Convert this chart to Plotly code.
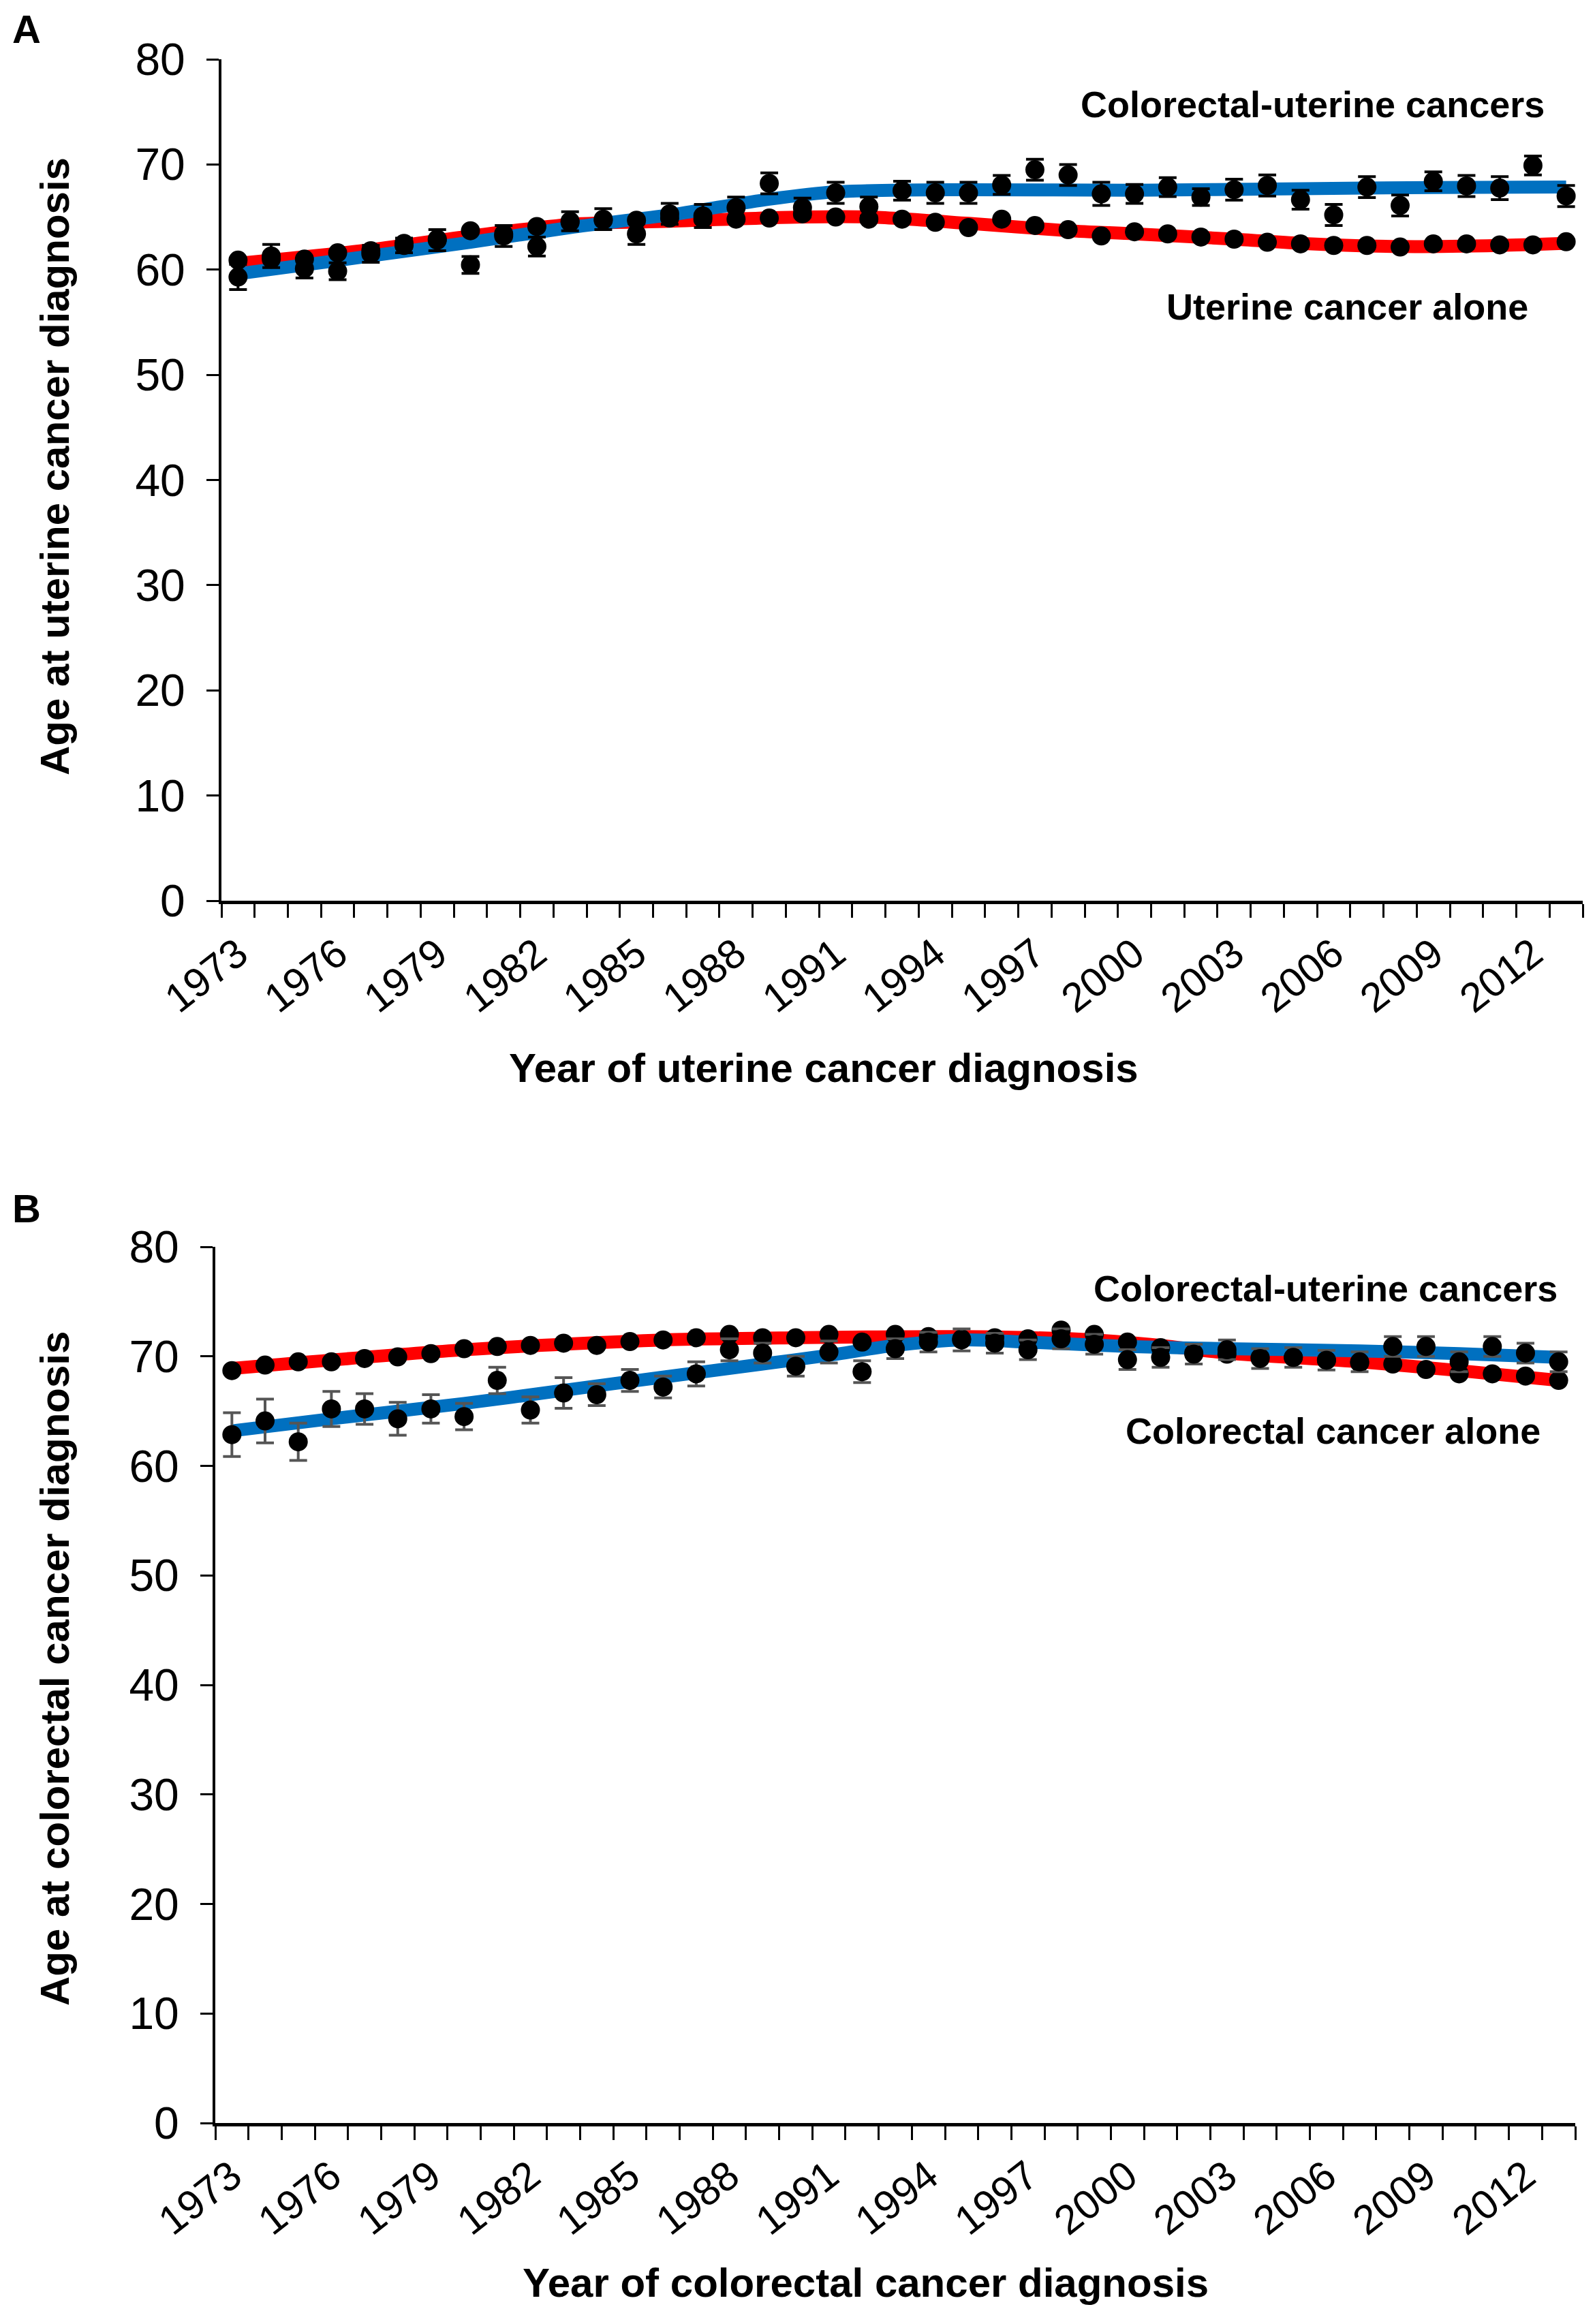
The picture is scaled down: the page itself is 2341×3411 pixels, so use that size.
import plotly.graph_objects as go

W, H = 2341, 3411
OFF = 8  # page body margin compensation (px)
years = list(range(1973, 2014))
tick_years = list(range(1973, 2013, 3))

# Panel A: age at uterine cancer diagnosis
a_cu = [59.3, 61.3, 60.1, 59.85, 61.5, 62.3, 62.8, 60.45, 63.2, 62.2, 64.6, 64.8, 63.4, 65.3,
        65.1, 65.9, 68.2, 65.9, 67.3, 66.0, 67.5, 67.3, 67.3, 68.05, 69.5, 69.0, 67.2, 67.2,
        67.85, 66.9, 67.6, 68.0, 66.65, 65.2, 67.85, 66.1, 68.4, 67.95, 67.75, 69.9, 67.0]
a_cu_err = [1.2, 1.1, 0.9, 0.8, 0.8, 0.7, 1.0, 0.8, 1.0, 0.9, 0.9, 1.0, 1.0, 1.0, 1.1, 1.0,
            1.0, 0.9, 1.0, 0.9, 0.9, 1.0, 1.0, 0.9, 1.0, 1.0, 1.1, 0.9, 0.9, 0.8, 1.0, 1.0,
            0.9, 1.0, 1.0, 1.0, 0.9, 1.0, 1.1, 0.9, 1.0]
a_ua = [60.9, 61.0, 61.0, 61.6, 61.8, 62.5, 62.9, 63.7, 63.4, 64.1, 64.5, 64.7, 64.7, 64.9,
        64.8, 64.8, 64.9, 65.3, 65.0, 64.8, 64.8, 64.5, 64.0, 64.8, 64.2, 63.8, 63.2, 63.6,
        63.4, 63.1, 62.9, 62.6, 62.45, 62.3, 62.3, 62.15, 62.45, 62.45, 62.35, 62.35, 62.65]
a_ua_err = [0.2] * 41
# Trend curves (read at knot years)
a_cu_trend_x = [1973, 1977, 1980, 1983, 1986, 1989, 1991, 1995, 2000, 2005, 2009, 2013]
a_cu_trend_y = [59.6, 61.3, 62.6, 64.0, 65.2, 66.7, 67.4, 67.6, 67.55, 67.7, 67.8, 67.85]
a_ua_trend_x = [1973, 1977, 1980, 1983, 1986, 1990, 1992, 1995, 1998, 2000, 2003, 2005, 2008, 2011, 2013]
a_ua_trend_y = [60.6, 61.9, 63.2, 64.3, 64.6, 65.0, 65.0, 64.4, 63.7, 63.4, 62.9, 62.5, 62.2, 62.3, 62.5]

# Panel B: age at colorectal cancer diagnosis
b_cu = [62.85, 64.1, 62.2, 65.2, 65.2, 64.3, 65.2, 64.5, 67.8, 65.1, 66.65, 66.5, 67.8, 67.2,
        68.4, 70.6, 70.3, 69.1, 70.4, 68.6, 70.7, 71.3, 71.5, 71.2, 70.6, 71.6, 71.1, 69.7,
        69.9, 70.2, 70.6, 69.8, 69.9, 69.65, 69.5, 70.9, 70.9, 69.5, 70.9, 70.3, 69.5]
b_cu_err = [2.0, 2.0, 1.7, 1.6, 1.4, 1.5, 1.3, 1.2, 1.2, 1.2, 1.4, 1.0, 1.0, 1.0, 1.1, 1.0,
            0.9, 0.9, 1.0, 1.0, 0.9, 0.9, 1.0, 0.9, 0.9, 0.9, 0.9, 0.9, 0.9, 0.9, 0.9, 0.9,
            0.9, 0.9, 0.9, 0.9, 0.9, 0.9, 0.9, 0.9, 0.9]
b_ca = [68.7, 69.2, 69.5, 69.5, 69.8, 69.95, 70.25, 70.7, 70.9, 71.0, 71.2, 71.0, 71.35, 71.5,
        71.7, 72.0, 71.7, 71.7, 72.0, 71.3, 72.0, 71.8, 71.6, 71.7, 71.6, 72.4, 72.0, 71.3,
        70.8, 70.3, 70.2, 69.9, 69.9, 69.65, 69.4, 69.3, 68.8, 68.4, 68.4, 68.2, 67.8]
b_ca_err = [0.2] * 41
b_cu_trend_x = [1973, 1976, 1980, 1983, 1986, 1989, 1991, 1993, 1995, 1997, 2000, 2003, 2007, 2010, 2013]
b_cu_trend_y = [63.2, 64.3, 65.7, 66.9, 68.1, 69.3, 70.1, 71.0, 71.5, 71.3, 70.9, 70.7, 70.5, 70.25, 69.9]
b_ca_trend_x = [1973, 1980, 1986, 1990, 1995, 1999, 2001, 2003, 2007, 2010, 2013]
b_ca_trend_y = [68.9, 70.6, 71.5, 71.7, 71.8, 71.5, 71.0, 70.3, 69.5, 68.7, 67.8]

RED = "#FF0000"
BLUE = "#0070C0"
FONT = "Liberation Sans, Arial, sans-serif"

fig = go.Figure()

def add_panel(xa, ya, cu, cu_err, other, other_err, cu_tx, cu_ty, ot_tx, ot_ty, cu_err_color):
    fig.add_trace(go.Scatter(x=ot_tx, y=ot_ty, mode="lines", line=dict(color=RED, width=19, shape="spline", smoothing=0.8),
                             xaxis=xa, yaxis=ya, showlegend=False, hoverinfo="skip"))
    fig.add_trace(go.Scatter(x=cu_tx, y=cu_ty, mode="lines", line=dict(color=BLUE, width=19, shape="spline", smoothing=0.8),
                             xaxis=xa, yaxis=ya, showlegend=False, hoverinfo="skip"))
    fig.add_trace(go.Scatter(x=years, y=other, mode="markers",
                             marker=dict(color="black", size=28),
                             error_y=dict(type="data", array=other_err, color="black", thickness=4, width=12),
                             xaxis=xa, yaxis=ya, showlegend=False))
    fig.add_trace(go.Scatter(x=years, y=cu, mode="markers",
                             marker=dict(color="black", size=28),
                             error_y=dict(type="data", array=cu_err, color=cu_err_color, thickness=4, width=13),
                             xaxis=xa, yaxis=ya, showlegend=False))

add_panel("x", "y", a_cu, a_cu_err, a_ua, a_ua_err, a_cu_trend_x, a_cu_trend_y, a_ua_trend_x, a_ua_trend_y, "black")
add_panel("x2", "y2", b_cu, b_cu_err, b_ca, b_ca_err, b_cu_trend_x, b_cu_trend_y, b_ca_trend_x, b_ca_trend_y, "#555555")

def xaxis_def(domain, anchor):
    return dict(domain=domain, anchor=anchor, range=[1972.5, 2013.5], automargin=False,
                tickmode="array", tickvals=tick_years, ticktext=[str(y) for y in tick_years],
                ticks="", tickangle=-38, tickfont=dict(family=FONT, size=60, color="black"),
                ticklabelstandoff=14,
                showline=True, linecolor="black", linewidth=5, showgrid=False, zeroline=False,
                minor=dict(tickmode="array", tickvals=[1972.5 + i for i in range(42)], ticks="outside",
                           ticklen=20, tickwidth=3, tickcolor="black", showgrid=False))

def yaxis_def(domain, anchor):
    return dict(domain=domain, anchor=anchor, range=[0, 80], tickmode="array", automargin=False,
                tickvals=list(range(0, 81, 10)), ticks="outside", ticklen=18, tickwidth=3,
                tickcolor="black", tickfont=dict(family=FONT, size=66, color="black"),
                ticklabelstandoff=18,
                showline=True, linecolor="black", linewidth=4, showgrid=False, zeroline=False)

def px_x(v):
    return (v - OFF) / W

def px_y(v):
    return 1 - (v - OFF) / H

fig.update_layout(
    width=W, height=H, paper_bgcolor="white", plot_bgcolor="white",
    margin=dict(l=0, r=0, t=0, b=0, autoexpand=False),
    xaxis=xaxis_def([px_x(325), px_x(2323)], "y"),
    yaxis=yaxis_def([px_y(1322), px_y(87)], "x"),
    xaxis2=xaxis_def([px_x(316), px_x(2312)], "y2"),
    yaxis2=yaxis_def([px_y(3116), px_y(1830)], "x2"),
)

ann = []
def txt(text, x, y, size, xref="paper", yref="paper", xanchor="center", yanchor="middle", angle=0):
    ann.append(dict(text=text, x=x, y=y, xref=xref, yref=yref, xanchor=xanchor, yanchor=yanchor,
                    showarrow=False, textangle=angle,
                    font=dict(family=FONT, size=size, color="black")))

# Panel letters
txt("<b>A</b>", px_x(39), px_y(43), 58)
txt("<b>B</b>", px_x(39), px_y(1773), 58)
# Axis titles
txt("<b>Age at uterine cancer diagnosis</b>", px_x(80), px_y(685), 60, angle=-90)
txt("<b>Year of uterine cancer diagnosis</b>", px_x(1209), px_y(1567), 60)
txt("<b>Age at colorectal cancer diagnosis</b>", px_x(80), px_y(2449), 60, angle=-90)
txt("<b>Year of colorectal cancer diagnosis</b>", px_x(1270), px_y(3350), 60)
# Series labels
txt("<b>Colorectal-uterine cancers</b>", 2012.4, 75.7, 54, xref="x", yref="y", xanchor="right")
txt("<b>Uterine cancer alone</b>", 2011.9, 56.5, 54, xref="x", yref="y", xanchor="right")
txt("<b>Colorectal-uterine cancers</b>", 2013.0, 76.2, 54, xref="x2", yref="y2", xanchor="right")
txt("<b>Colorectal cancer alone</b>", 2012.5, 63.2, 54, xref="x2", yref="y2", xanchor="right")

fig.update_layout(annotations=ann)
fig.write_html("out.html")
